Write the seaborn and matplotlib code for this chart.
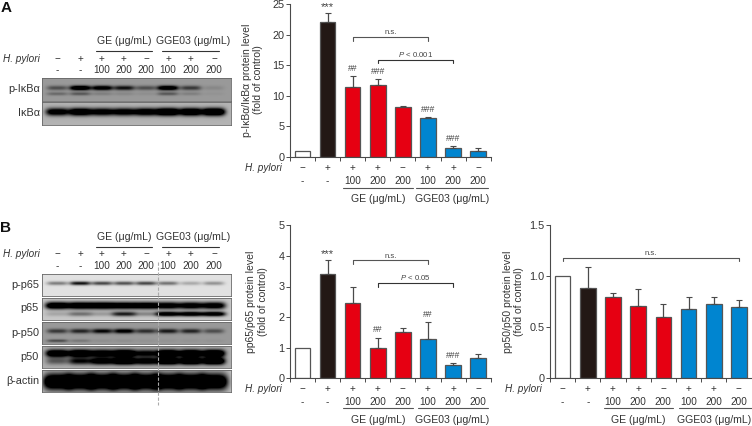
import numpy as np
import pandas as pd
import matplotlib
matplotlib.use("Agg")
import matplotlib.pyplot as plt
import seaborn as sns

sns.set_theme(style="white")
plt.rcParams['font.family'] = ['Liberation Sans', 'DejaVu Sans']
plt.rcParams['mathtext.fontset'] = 'custom'
plt.rcParams['mathtext.it'] = 'Liberation Sans:italic'
plt.rcParams['mathtext.rm'] = 'Liberation Sans'

W, H = 752, 426
TXT = '#333333'
EDGE = '#4a4a4a'
ROW = 7.2
GRP = 7.6
YLAB = 7.5
BLOT = 7.8

categories = ['ctrl', 'Hp', 'GE100+', 'GE200+', 'GE200', 'G100+', 'G200+', 'G200']
colors = ['#ffffff', '#231815', '#e60012', '#e60012', '#e60012', '#0085d0', '#0085d0', '#0085d0']
row_sign = ['\u2212', '+', '+', '+', '\u2212', '+', '+', '\u2212']
row_dose = ['-', '-', '100', '200', '200', '100', '200', '200']

iKb_values = [1.0, 22.1, 11.5, 11.7, 8.1, 6.4, 1.4, 1.0]
iKb_tops = [1.0, 23.5, 13.2, 12.7, 8.4, 6.6, 1.8, 1.4]
p65_values = [1.0, 3.42, 2.46, 1.0, 1.52, 1.29, 0.44, 0.66]
p65_tops = [1.0, 3.87, 3.0, 1.33, 1.64, 1.83, 0.49, 0.79]
p50_values = [1.0, 0.89, 0.80, 0.705, 0.605, 0.675, 0.725, 0.70]
p50_tops = [1.0, 1.09, 0.84, 0.88, 0.73, 0.80, 0.80, 0.765]

# blot band darkness per lane (0-1): rows are bands
lane_px = [57, 80, 102, 124, 146, 168, 191, 214]
blot_bands = {
    'p-IkB': dict(bg=0.60, hw=10.5, bands=[(0.42, 2.4, [0.35, 1.05, 0.9, 0.65, 0.35, 1.0, 0.45, 0.08]),
                                           (0.68, 1.8, [0.22, 0.30, 0.12, 0.08, 0.05, 0.30, 0.12, 0.03])]),
    'IkB': dict(bg=0.70, hw=11.5, bands=[(0.45, 3.8, [1.1, 1.3, 1.1, 1.1, 1.2, 1.5, 1.4, 1.5])]),
    'p-p65': dict(bg=0.88, hw=10.5, bands=[(0.42, 2.0, [0.45, 0.95, 0.7, 0.65, 0.7, 0.5, 0.25, 0.35])]),
    'p65': dict(bg=0.78, hw=12.0, bands=[(0.33, 3.6, [1.4, 1.4, 1.4, 1.3, 1.3, 1.2, 1.2, 1.2]),
                                         (0.72, 2.4, [0.15, 0.4, 0.2, 0.8, 0.3, 1.2, 1.2, 1.2])]),
    'p-p50': dict(bg=0.60, hw=10.5, bands=[(0.40, 2.4, [0.45, 0.55, 0.7, 0.8, 0.5, 0.6, 0.55, 0.35]),
                                           (0.85, 1.6, [0.35, 0.15, 0.05, 0.05, 0.03, 0.03, 0.03, 0.03])]),
    'p50': dict(bg=0.68, hw=11.5, bands=[(0.32, 3.8, [1.3, 1.4, 1.2, 1.4, 0.9, 1.4, 1.4, 1.4]),
                                         (0.68, 3.6, [0.4, 0.8, 1.1, 1.4, 1.1, 1.4, 1.4, 1.4])]),
    'actin': dict(bg=0.75, hw=14.0, bands=[(0.52, 8.0, [1.6, 1.6, 1.6, 1.6, 1.6, 1.6, 1.6, 1.6])]),
}

fig = plt.figure(figsize=(W / 100, H / 100), dpi=100)


def axpx(x0, x1, y0, y1):
    return fig.add_axes([x0 / W, 1 - y1 / H, (x1 - x0) / W, (y1 - y0) / H])


def T(x, y, s, size=ROW, ha='center', va='center', **kw):
    kw.setdefault('color', TXT)
    fig.text(x / W, 1 - y / H, s, fontsize=size, ha=ha, va=va, **kw)


def HL(x0, x1, y, color='#333333', lw=0.8):
    fig.add_artist(plt.Line2D([x0 / W, x1 / W], [1 - y / H] * 2, color=color, lw=lw))


def blot(x0, x1, y0, y1, key):
    ax = axpx(x0, x1, y0, y1)
    nx, ny = int(x1 - x0), int((y1 - y0) * 2)
    xs = np.linspace(x0, x1, nx)
    ys = np.linspace(0, y1 - y0, ny)
    spec = blot_bands[key]
    img = np.full((ny, nx), float(spec['bg']))
    for frac, sig, amps in spec['bands']:
        for lx, a in zip(lane_px, amps):
            gx = np.exp(-((xs - lx) / spec['hw']) ** 4)
            gy = np.exp(-((ys - frac * (y1 - y0)) / sig) ** 2)
            img -= 0.85 * a * np.outer(gy, gx)
    sns.heatmap(np.clip(img, 0, 1), ax=ax, cmap='gray', vmin=0, vmax=1, cbar=False,
                xticklabels=False, yticklabels=False, rasterized=True)
    for s in ax.spines.values():
        s.set_visible(True)
        s.set_color('#666666')
        s.set_linewidth(0.6)


def bars(x0, x1, y0, y1, values, tops, ymax, yticks, ylabels, bottom_rows):
    ax = axpx(x0, x1, y0, y1)
    df = pd.DataFrame({'cat': categories, 'val': values})
    sns.barplot(data=df, x='cat', y='val', hue='cat', order=categories, hue_order=categories,
                palette=dict(zip(categories, colors)), width=0.62, saturation=1, legend=False,
                edgecolor='#555555', linewidth=0.9, errorbar=None, ax=ax)
    for i, (v, t) in enumerate(zip(values, tops)):
        if t > v:
            ax.errorbar(i, v, yerr=[[0], [t - v]], color='#4a4a4a', capsize=2.0,
                        elinewidth=0.9, capthick=0.8, zorder=1)
    ax.set_xlim(-0.5, 7.5)
    ax.set_ylim(0, ymax)
    ax.set_xticks(np.arange(-0.5, 8, 1))
    ax.set_xticklabels([])
    ax.set_yticks(yticks)
    ax.set_yticklabels(ylabels, fontsize=7.8, color=TXT)
    ax.set_xlabel('')
    ax.set_ylabel('')
    ax.patch.set_alpha(0)
    ax.tick_params(axis='both', direction='out', length=2.6, width=0.7, color=EDGE, pad=1.5,
                   left=True, bottom=True)
    sns.despine(ax=ax)
    for k in ('left', 'bottom'):
        ax.spines[k].set_color(EDGE)
        ax.spines[k].set_linewidth(0.8)
    r1, r2 = bottom_rows
    for i in range(8):
        px = x0 + (i + 0.5) * (x1 - x0) / 8
        T(px, r1, row_sign[i])
        T(px, r2, row_dose[i])
    return ax


def bracket(ax, i0, i1, y, label, label_y, tip, color='#555555'):
    ax.plot([i0, i0, i1, i1], [y - tip, y, y, y - tip], color=color, lw=0.8, clip_on=False)
    ax.text((i0 + i1) / 2, label_y, label, fontsize=5.6, ha='center', va='center',
            color='#444444')


def marks(ax, items):
    for i, y, s in items:
        ax.text(i, y, s, fontsize=8.2 if s == '***' else 6.2, ha='center',
                va='center_baseline' if s == '***' else 'center', color='#444444')


# ---------- Panel letters
T(6, 8, 'A', size=11, fontweight='bold', color='#111111')
T(6, 228, 'B', size=11, fontweight='bold', color='#111111')

# ---------- Blots A
blot(42, 231, 78, 101, 'p-IkB')
blot(42, 231, 102, 124.5, 'IkB')
T(40, 89, 'p-I\u03baB\u03b1', size=BLOT, ha='right')
T(40, 113, 'I\u03baB\u03b1', size=BLOT, ha='right')
T(40, 58.7, 'H. pylori', ha='right', style='italic')
for lx, a, b in zip(lane_px, row_sign, row_dose):
    T(lx, 58.7, a)
    T(lx, 70, b)
T(124, 41, 'GE (\u03bcg/mL)', size=GRP)
T(193, 41, 'GGE03 (\u03bcg/mL)', size=GRP)
HL(95.7, 152, 51.3)
HL(162, 219, 51.3)

# ---------- Blots B
blot(42, 231, 274.3, 296, 'p-p65')
blot(42, 231, 298.3, 320.3, 'p65')
blot(42, 231, 322.3, 344.3, 'p-p50')
blot(42, 231, 346.3, 368.3, 'p50')
blot(42, 231, 370.3, 392.3, 'actin')
for y, s in zip([285, 308.3, 333, 356.7, 380.7],
                ['p-p65', 'p65', 'p-p50', 'p50', '\u03b2-actin']):
    T(39, y, s, size=BLOT, ha='right')
T(40, 254.3, 'H. pylori', ha='right', style='italic')
for lx, a, b in zip(lane_px, row_sign, row_dose):
    T(lx, 254.3, a)
    T(lx, 266, b)
T(124, 237.3, 'GE (\u03bcg/mL)', size=GRP)
T(193, 237.3, 'GGE03 (\u03bcg/mL)', size=GRP)
HL(95.7, 152, 247.3)
HL(162, 219, 247.3)
fig.add_artist(plt.Line2D([157.7 / W] * 2, [1 - 261.7 / H, 1 - 405 / H], color='#aaaaaa',
                          lw=0.8, ls=(0, (3, 1.5)), zorder=10))

# ---------- Bar panel A
ax1 = bars(290, 490.7, 4, 157, iKb_values, iKb_tops, 25, [0, 5, 10, 15, 20, 25],
           ['0', '5', '10', '15', '20', '25'], (168, 181))
marks(ax1, [(1, 24.6, '***'), (2, 14.5, '##'), (3, 13.9, '###'), (5, 7.8, '###'), (6, 3.1, '###')])
bracket(ax1, 2, 5, 19.6, 'n.s.', 20.4, 0.6)
bracket(ax1, 3, 6, 15.9, '$\\mathit{P}$ < 0.001', 16.8, 0.6, color='#333333')
T(281.7, 168, 'H. pylori', ha='right', style='italic')
T(246.5, 80, 'p-I\u03baB\u03b1/I\u03baB\u03b1 protein level', size=YLAB, rotation=90)
T(258, 80, '(fold of control)', size=YLAB, rotation=90)
HL(342.7, 412.7, 187.7, color='#555555')
HL(416, 488, 187.7, color='#555555')
T(378, 199, 'GE (\u03bcg/mL)', size=GRP)
T(452, 199, 'GGE03 (\u03bcg/mL)', size=GRP)

# ---------- Bar panel B
ax2 = bars(290, 490.7, 225.3, 378.3, p65_values, p65_tops, 5, [0, 1, 2, 3, 4, 5],
           ['0', '1', '2', '3', '4', '5'], (389.3, 401.7))
marks(ax2, [(1, 4.08, '***'), (3, 1.58, '##'), (5, 2.07, '##'), (6, 0.76, '###')])
bracket(ax2, 2, 5, 3.85, 'n.s.', 3.99, 0.11)
bracket(ax2, 3, 6, 3.1, '$\\mathit{P}$ < 0.05', 3.28, 0.11, color='#333333')
T(281.7, 389.3, 'H. pylori', ha='right', style='italic')
T(251.5, 302, 'pp65/p65 protein level', size=YLAB, rotation=90)
T(263, 302, '(fold of control)', size=YLAB, rotation=90)
HL(343, 412.7, 408.3, color='#555555')
HL(418, 488, 408.3, color='#555555')
T(378, 420, 'GE (\u03bcg/mL)', size=GRP)
T(452, 420, 'GGE03 (\u03bcg/mL)', size=GRP)

# ---------- Bar panel C
ax3 = bars(550, 751.5, 225.3, 378.3, p50_values, p50_tops, 1.5, [0, 0.5, 1.0, 1.5],
           ['0', '0.5', '1.0', '1.5'], (389.3, 401.7))
bracket(ax3, 0, 7, 1.183, 'n.s.', 1.225, 0.033)
T(541.7, 389.3, 'H. pylori', ha='right', style='italic')
T(508, 302, 'pp50/p50 protein level', size=YLAB, rotation=90)
T(519.5, 302, '(fold of control)', size=YLAB, rotation=90)
HL(604, 672.7, 408.3, color='#555555')
HL(679, 751.7, 408.3, color='#555555')
T(638, 420, 'GE (\u03bcg/mL)', size=GRP)
T(714, 420, 'GGE03 (\u03bcg/mL)', size=GRP)

fig.savefig('out.png', dpi=100)
